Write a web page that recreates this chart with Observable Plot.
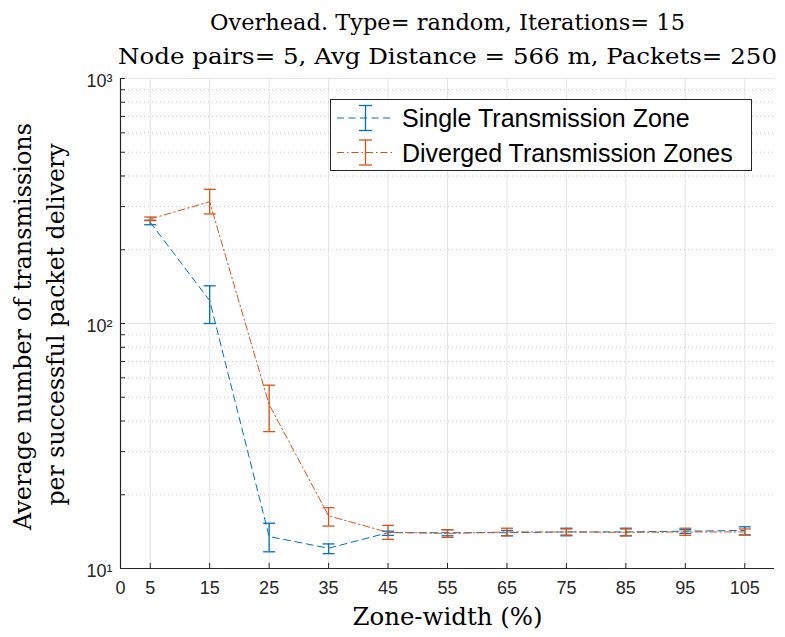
<!DOCTYPE html>
<html><head><meta charset="utf-8">
<script src="https://cdn.jsdelivr.net/npm/d3@7"></script>
<script src="https://cdn.jsdelivr.net/npm/@observablehq/plot@0.6"></script>
<style>
body{margin:0;background:#fff;}
#wrap{position:relative;width:785px;height:637px;overflow:hidden;}
#legend{position:absolute;left:330px;top:99px;}
</style></head><body><div id="wrap"></div>
<script>
const zoneWidth = [5, 15, 25, 35, 45, 55, 65, 75, 85, 95, 105];
const singleMean = [259, 124, 13.5, 12.1, 14.0, 14.0, 14.0, 14.1, 14.1, 14.2, 14.3];
const singleLow  = [253, 100, 11.7, 11.5, 13.65, 13.6, 13.6, 13.6, 13.6, 13.9, 13.7];
const singleHigh = [264, 142.5, 15.3, 12.6, 14.2, 14.4, 14.3, 14.6, 14.6, 14.4, 14.8];
const divergedMean = [267, 314, 46.7, 16.4, 14.05, 13.9, 14.1, 14.1, 14.05, 14.1, 14.1];
const divergedLow  = [263, 280, 36.2, 14.9, 13.15, 13.4, 13.6, 13.7, 13.6, 13.65, 13.7];
const divergedHigh = [272, 353, 56, 17.7, 15.0, 14.4, 14.6, 14.5, 14.5, 14.6, 14.5];
const xTicks = [0, 5, 15, 25, 35, 45, 55, 65, 75, 85, 95, 105];
const yMajor = [10, 100, 1000];
const yMinor = [20, 30, 40, 50, 60, 70, 80, 90, 200, 300, 400, 500, 600, 700, 800, 900];
const seriesNames = ["Single Transmission Zone", "Diverged Transmission Zones"];
const seriesColors = ["#0072BD", "#D95319"];
const seriesDash = ["7,4.5", "7,3,1.5,3"];
const titleLines = ["Overhead. Type= random, Iterations= 15", "Node pairs= 5, Avg Distance = 566 m, Packets= 250"];
const xLabel = "Zone-width (%)";
const yLabelLines = ["Average number of transmissions", "per successful packet delivery"];
const supDigits = {1: "\u00b9", 2: "\u00b2", 3: "\u00b3"};

const W = 785, H = 637, mL = 120, mR = 11, mT = 78, mB = 69;
const plotW = W - mL - mR, plotH = H - mT - mB;
const serif = "'DejaVu Serif', serif";
const sans = "'Liberation Sans', Arial, sans-serif";
const axisColor = "#262626";

const series = [
  {mean: singleMean, lo: singleLow, hi: singleHigh},
  {mean: divergedMean, lo: divergedLow, hi: divergedHigh}
].map((s, i) => ({
  color: seriesColors[i], dash: seriesDash[i],
  rows: zoneWidth.map((x, j) => ({x, y: s.mean[j], lo: s.lo[j], hi: s.hi[j]}))
}));

const capSymbol = {draw(ctx, size) { const r = Math.sqrt(size / Math.PI); ctx.moveTo(-r, 0); ctx.lineTo(r, 0); }};

const seriesMarks = series.flatMap(s => [
  Plot.line(s.rows, {x: "x", y: "y", stroke: s.color, strokeWidth: 1, strokeDasharray: s.dash}),
  Plot.ruleX(s.rows, {x: "x", y1: "lo", y2: "hi", stroke: s.color, strokeWidth: 1.3}),
  Plot.dot(s.rows, {x: "x", y: "lo", symbol: capSymbol, r: 6, fill: "none", stroke: s.color, strokeWidth: 1.3}),
  Plot.dot(s.rows, {x: "x", y: "hi", symbol: capSymbol, r: 6, fill: "none", stroke: s.color, strokeWidth: 1.3})
]);

const chart = Plot.plot({
  width: W, height: H,
  marginLeft: mL, marginRight: mR, marginTop: mT, marginBottom: mB,
  style: {fontFamily: sans, fontSize: "18px", color: axisColor, background: "#fff"},
  x: {domain: [0, 110]},
  y: {type: "log", domain: [10, 1000]},
  marks: [
    Plot.ruleX(xTicks.filter(d => d > 0), {x: d => d, stroke: "#e4e4e4", strokeWidth: 1}),
    Plot.ruleY(yMinor, {y: d => d, stroke: "#c8c8c8", strokeWidth: 1, strokeDasharray: "1,3"}),
    Plot.ruleY(yMajor.filter(d => d > 10), {y: d => d, stroke: "#e4e4e4", strokeWidth: 1}),
    Plot.tickY([...yMajor, ...yMinor], {y: d => d, insetRight: plotW - 5, stroke: axisColor, strokeWidth: 1}),
    Plot.tickX(xTicks.filter(d => d > 0), {x: d => d, insetTop: plotH - 5, stroke: axisColor, strokeWidth: 1}),
    Plot.ruleX([0], {x: d => d, stroke: axisColor, strokeWidth: 1.2}),
    Plot.ruleY([10], {y: d => d, stroke: axisColor, strokeWidth: 1.2}),
    Plot.axisX({ticks: xTicks, tickSize: 0, tickPadding: 13, label: null, tickFormat: d => String(d), fontSize: 18, fill: axisColor}),
    Plot.axisY({ticks: yMajor, tickSize: 0, tickPadding: 8, label: null, dy: 3,
      tickFormat: d => "10" + supDigits[Math.round(Math.log10(d))], fontSize: 18, fill: axisColor}),
    ...seriesMarks,
    Plot.text([titleLines[0]], {text: d => d, frameAnchor: "top", textAnchor: "middle", lineAnchor: "bottom", dy: -49, fontFamily: serif, fontSize: 23, fill: "#000"}),
    Plot.text([titleLines[1]], {text: d => d, frameAnchor: "top", textAnchor: "middle", lineAnchor: "bottom", dy: -15, fontFamily: serif, fontSize: 23, fill: "#000"}),
    Plot.text([xLabel], {text: d => d, frameAnchor: "bottom", textAnchor: "middle", lineAnchor: "middle", dy: 49, fontFamily: serif, fontSize: 24, fill: "#000"}),
    Plot.text([yLabelLines[0]], {text: d => d, frameAnchor: "left", textAnchor: "middle", lineAnchor: "middle", rotate: -90, dx: -97, dy: 3, fontFamily: serif, fontSize: 24, fill: "#000"}),
    Plot.text([yLabelLines[1]], {text: d => d, frameAnchor: "left", textAnchor: "middle", lineAnchor: "middle", rotate: -90, dx: -64, dy: 1, fontFamily: serif, fontSize: 24, fill: "#000"})
  ]
});
const wrap = document.getElementById("wrap");
wrap.appendChild(chart);

// Fit serif texts to the widths they occupy in the reference
const fitWidths = new Map([
  [titleLines[0], 475], [titleLines[1], 659], [xLabel, 190],
  [yLabelLines[0], 407], [yLabelLines[1], 362]
]);
d3.select(chart).selectAll("text").each(function() {
  const t = this.textContent;
  if (fitWidths.has(t)) {
    this.setAttribute("textLength", fitWidths.get(t));
    this.setAttribute("lengthAdjust", "spacingAndGlyphs");
  }
});

// Legend
const lg = d3.select(wrap).append("svg").attr("id", "legend").attr("width", 423).attr("height", 73);
lg.append("rect").attr("x", 0.5).attr("y", 0.5).attr("width", 421).attr("height", 71)
  .attr("fill", "#fff").attr("stroke", axisColor).attr("stroke-width", 1);
const rowY = [19, 53.5];
seriesNames.forEach((name, i) => {
  const g = lg.append("g").attr("transform", `translate(0,${rowY[i]})`);
  g.append("line").attr("x1", 7).attr("x2", 62).attr("y1", 0).attr("y2", 0)
    .attr("stroke", seriesColors[i]).attr("stroke-width", 1).attr("stroke-dasharray", seriesDash[i]);
  g.append("line").attr("x1", 35.5).attr("x2", 35.5).attr("y1", -12.5).attr("y2", 12.5).attr("stroke", seriesColors[i]).attr("stroke-width", 1.3);
  [-12.5, 12.5].forEach(yy => g.append("line").attr("x1", 29).attr("x2", 42).attr("y1", yy).attr("y2", yy).attr("stroke", seriesColors[i]).attr("stroke-width", 1.3));
  g.append("text").attr("x", 72).attr("y", 9).attr("font-family", sans).attr("font-size", 25).attr("fill", "#000").text(name);
});
</script></body></html>
